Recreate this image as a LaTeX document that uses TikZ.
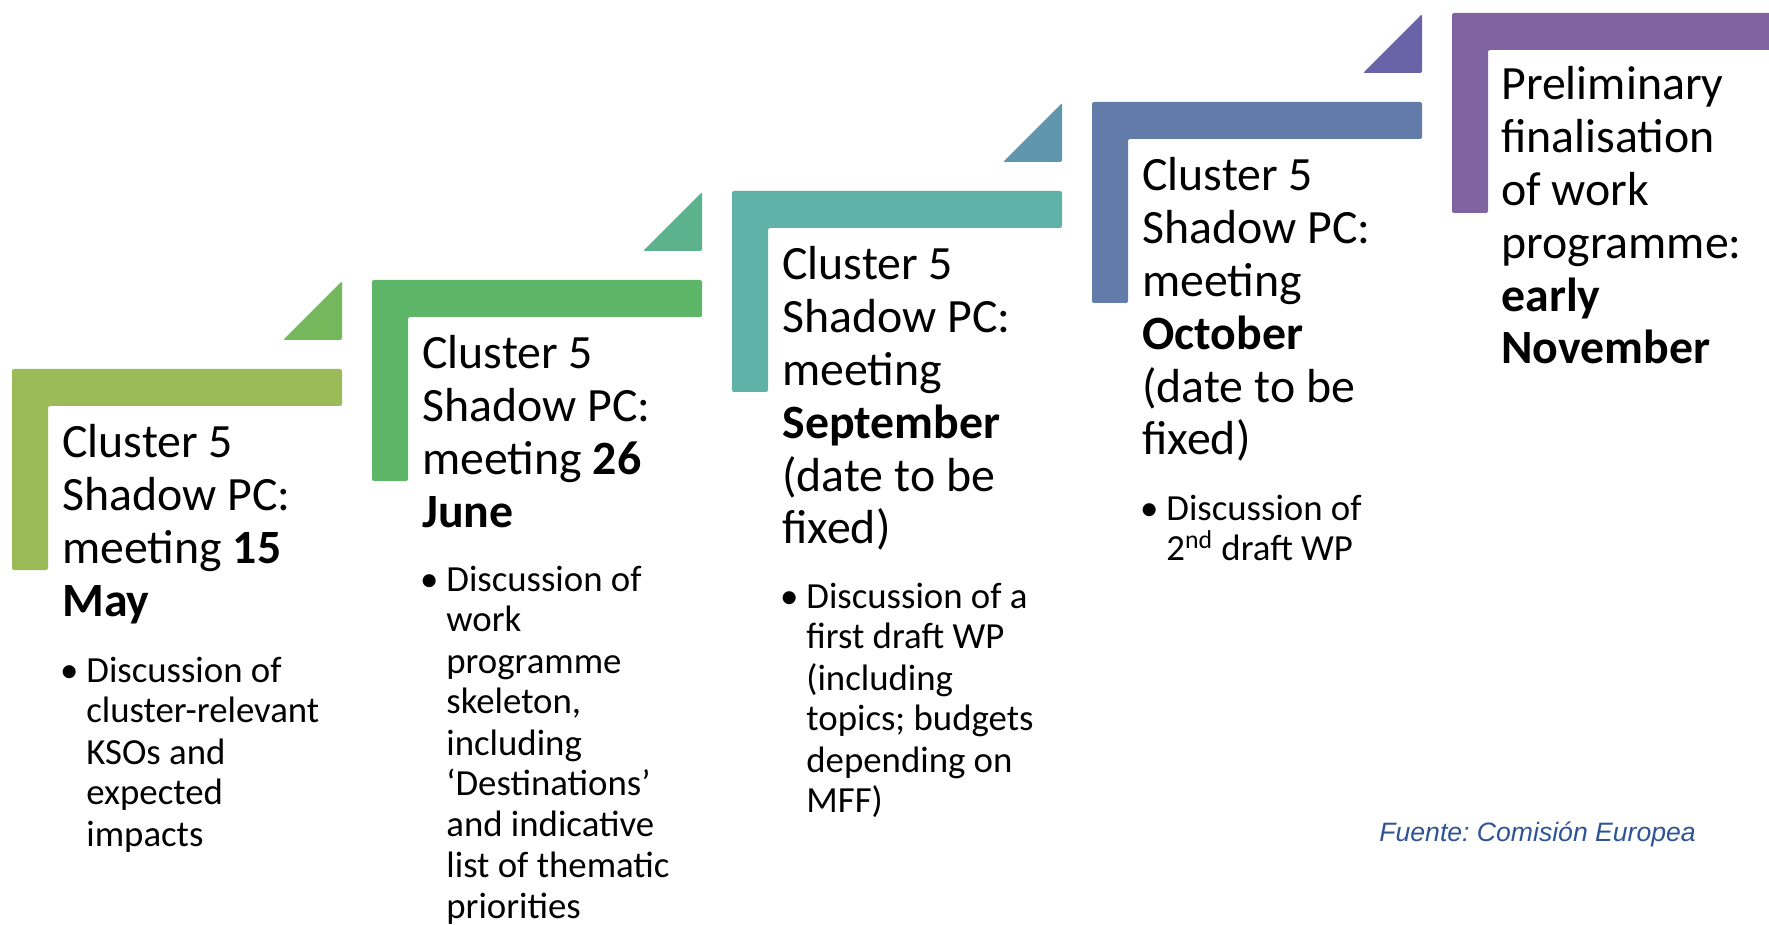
\documentclass[tikz,border=0pt]{standalone}
\usepackage{fontspec}
\setmainfont{Carlito}
\newfontfamily\sourcefont{Liberation Sans}
\frenchspacing

\definecolor{barmay}{RGB}{155,187,89}
\definecolor{tipmay}{RGB}{116,184,91}
\definecolor{barjun}{RGB}{93,181,103}
\definecolor{tipjun}{RGB}{91,178,140}
\definecolor{barsep}{RGB}{96,177,168}
\definecolor{tipsep}{RGB}{96,150,173}
\definecolor{baroct}{RGB}{98,123,168}
\definecolor{tipoct}{RGB}{104,98,166}
\definecolor{barnov}{RGB}{128,100,162}
\definecolor{sourceblue}{RGB}{47,84,150}

\begin{document}
\begin{tikzpicture}[x=0.5pt, y=-0.5pt,
  stepbar/.style={rounded corners=1pt},
  title/.style={anchor=base west, inner sep=0pt, text width=150pt, align=flush left,
    font={\fontsize{23.9pt}{26.4pt}\selectfont}},
  items/.style={anchor=base west, inner sep=0pt, text width=130pt, align=flush left,
    font={\fontsize{18.4pt}{20.5pt}\selectfont}}]
\useasboundingbox (0,0) rectangle (1769,925);

% bars and corner tips
\fill[stepbar, barmay] (12,369) -- (342,369) -- (342,406) -- (48,406) -- (48,570) -- (12,570) -- cycle;
\fill[stepbar, tipmay] (342,281) -- (342,340) -- (283,340) -- cycle;
\fill[stepbar, barjun] (372,280) -- (702,280) -- (702,317) -- (408,317) -- (408,481) -- (372,481) -- cycle;
\fill[stepbar, tipjun] (702,192) -- (702,251) -- (643,251) -- cycle;
\fill[stepbar, barsep] (732,191) -- (1062,191) -- (1062,228) -- (768,228) -- (768,392) -- (732,392) -- cycle;
\fill[stepbar, tipsep] (1062,103) -- (1062,162) -- (1003,162) -- cycle;
\fill[stepbar, baroct] (1092,102) -- (1422,102) -- (1422,139) -- (1128,139) -- (1128,303) -- (1092,303) -- cycle;
\fill[stepbar, tipoct] (1422,14) -- (1422,73) -- (1363,73) -- cycle;
\fill[stepbar, barnov] (1452,13) -- (1775,13) -- (1775,50) -- (1488,50) -- (1488,213) -- (1452,213) -- cycle;

% titles
\node[title] (may) at (62,458) {Cluster 5\\Shadow PC:\\meeting \textbf{15}\\\textbf{May}};
\node[title] (jun) at (422,369) {Cluster 5\\Shadow PC:\\meeting \textbf{26}\\\textbf{June}};
\node[title] (sep) at (782,280) {Cluster 5\\Shadow PC:\\meeting\\\textbf{September}\\(date to be\\fixed)};
\node[title] (oct) at (1142,191) {Cluster 5\\Shadow PC:\\meeting\\\textbf{October}\\(date to be\\fixed)};
\node[title] (nov) at (1501,100) {Preliminary\\finalisation\\of work\\programme:\\\textbf{early}\\\textbf{November}};

% discussion items
\node[items] (mayitems) at (86,682) {\llap{\textbullet\hspace{4pt}}Discussion of\\cluster-relevant\\KSOs and\\expected\\impacts};
\node[items] (junitems) at (446,591) {\llap{\textbullet\hspace{4pt}}Discussion of\\work\\programme\\skeleton,\\including\\‘Destinations’\\and indicative\\list of thematic\\priorities};
\node[items] (sepitems) at (806,608) {\llap{\textbullet\hspace{4pt}}Discussion of a\\first draft WP\\(including\\topics; budgets\\depending on\\MFF)};
\node[items] (octitems) at (1166,520) {\llap{\textbullet\hspace{4pt}}Discussion of\\2\textsuperscript{nd} draft WP};

% source
\node[anchor=base west, inner sep=0pt, text=sourceblue, font={\sourcefont\itshape\fontsize{13.3pt}{15pt}\selectfont}] (source) at (1379,841) {Fuente: Comisión Europea};
\end{tikzpicture}
\end{document}
